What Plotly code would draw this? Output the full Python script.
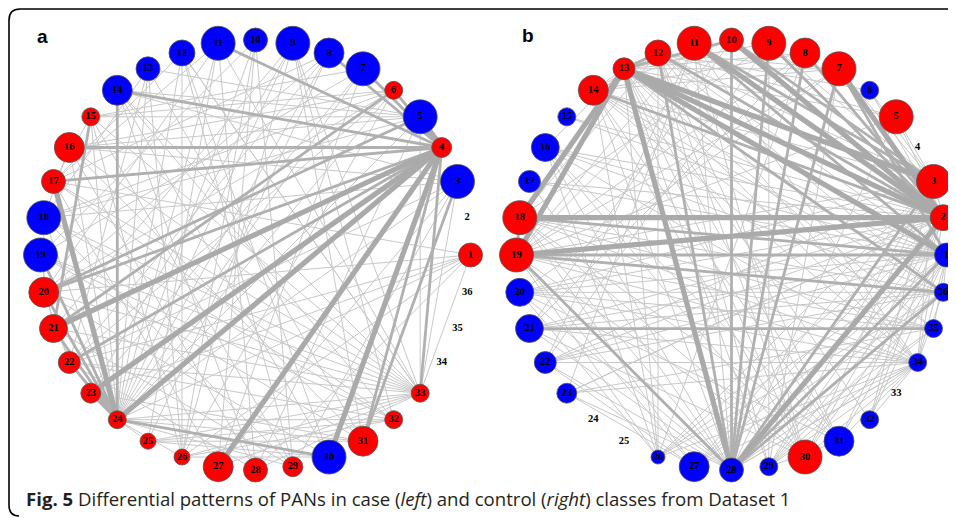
import math
import plotly.graph_objects as go

# ---------------- data ----------------
NODE_IDS = list(range(1, 37))

# node radius (px) and class per node: 'r' = red, 'b' = blue, '' = no circle
A_RADIUS = [12, 0, 17, 10, 17, 9, 17, 15, 17, 12, 17, 13, 12, 15, 9, 15, 12, 17,
            17, 15, 14, 11, 10, 9, 8, 8, 15, 12, 10, 17, 15, 9, 9, 0, 0, 0]
A_CLASS = ['r', '', 'b', 'r', 'b', 'r', 'b', 'b', 'b', 'b', 'b', 'b', 'b', 'b', 'r', 'r', 'r', 'b',
           'b', 'r', 'r', 'r', 'r', 'r', 'r', 'r', 'r', 'r', 'r', 'b', 'r', 'r', 'r', '', '', '']

B_RADIUS = [12, 13, 17, 0, 17, 9, 17, 15, 17, 12, 17, 13, 11, 15, 9, 14, 11, 17,
            17, 14, 14, 11, 10, 0, 0, 7, 15, 12, 9, 17, 15, 9, 0, 9, 9, 9]
B_CLASS = ['b', 'r', 'r', '', 'r', 'b', 'r', 'r', 'r', 'r', 'r', 'r', 'r', 'r', 'b', 'b', 'b', 'r',
           'r', 'b', 'b', 'b', 'b', '', '', 'b', 'b', 'b', 'b', 'r', 'b', 'b', '', 'b', 'b', 'b']

A_THICK = [(4, 21), (4, 24), (4, 27), (4, 30), (4, 23), (17, 24), (4, 5)]
A_MED = [(4, 7), (4, 8), (4, 11), (4, 14), (4, 16), (4, 17), (4, 20), (4, 22), (4, 31), (4, 6),
         (4, 33), (14, 24), (15, 21), (24, 30), (20, 24), (21, 24), (23, 24), (22, 24), (3, 31),
         (5, 20), (6, 21), (19, 24)]
A_THIN = [(33, 15), (33, 16), (33, 17), (33, 18), (33, 19), (33, 20), (33, 21), (33, 22), (33, 14),
          (33, 12), (33, 11), (33, 9), (33, 1), (33, 3), (33, 5), (33, 25), (33, 26), (33, 27), (33, 28),
          (24, 32), (24, 33), (24, 31), (24, 29), (24, 26), (24, 25), (24, 1), (24, 3), (24, 5), (24, 6),
          (24, 7), (24, 8), (24, 9), (24, 12), (24, 13), (24, 11), (24, 10), (24, 15), (24, 16), (24, 18),
          (13, 31), (12, 30), (10, 26), (10, 29), (9, 32), (8, 22), (8, 20), (7, 19), (7, 23), (6, 20),
          (6, 22), (6, 18), (5, 18), (5, 16), (5, 15), (3, 18), (3, 22), (1, 28), (1, 22), (16, 31),
          (17, 32), (18, 32), (19, 32), (22, 32), (23, 31), (14, 30), (14, 32), (15, 29), (15, 26),
          (12, 26), (12, 29), (11, 25), (11, 28), (10, 27), (9, 26), (8, 25), (7, 27), (13, 22), (13, 18),
          (12, 17), (11, 17), (11, 20), (10, 19), (9, 21), (9, 23), (8, 17), (7, 15), (6, 15), (6, 16),
          (5, 14), (5, 13), (3, 14), (3, 16), (1, 17), (1, 20), (1, 23), (1, 26), (3, 27), (3, 29),
          (5, 28), (6, 26), (31, 25), (32, 25), (32, 26), (30, 25), (30, 26), (16, 28), (17, 27),
          (18, 29), (19, 31), (20, 30), (21, 29), (22, 28), (15, 17), (16, 18), (20, 22), (21, 23),
          (18, 20), (19, 21), (13, 26), (14, 28), (9, 31), (12, 33)]

B_THICK = [(13, 2), (13, 3), (13, 18), (13, 19), (13, 28), (18, 2), (19, 2), (10, 2), (11, 2),
           (7, 2), (28, 2), (13, 1)]
B_MED = [(10, 28), (8, 28), (7, 28), (9, 28), (19, 28), (28, 1), (28, 3), (19, 1), (11, 3), (10, 3),
         (12, 2), (13, 36), (18, 1), (11, 1), (7, 1), (8, 2), (12, 13), (13, 10), (18, 19), (19, 36),
         (21, 35), (28, 36), (14, 2), (9, 2), (28, 12)]
B_THIN = [(34, 19), (34, 18), (34, 20), (34, 21), (34, 22), (34, 23), (34, 14), (34, 13), (34, 12),
          (34, 27), (34, 28), (34, 29), (34, 26), (34, 30), (34, 31), (34, 32), (34, 36), (34, 1),
          (34, 2), (34, 3), (34, 11), (34, 16), (36, 19), (36, 20), (36, 21), (36, 18), (36, 16),
          (36, 12), (36, 14), (36, 22), (35, 19), (35, 14), (35, 20), (35, 18), (35, 13), (35, 23),
          (28, 35), (28, 34), (28, 5), (28, 11), (28, 14), (28, 16), (28, 18), (28, 21), (28, 22),
          (28, 23), (28, 20), (26, 19), (26, 20), (26, 16), (26, 14), (26, 13), (26, 12), (26, 2),
          (26, 1), (26, 36), (26, 3), (26, 8), (29, 1), (29, 2), (29, 3), (29, 36), (29, 35), (29, 31),
          (29, 12), (29, 13), (29, 7), (29, 9), (2, 22), (2, 21), (2, 20), (2, 23), (2, 16), (2, 14),
          (2, 5), (2, 3), (1, 21), (1, 22), (1, 20), (1, 16), (1, 12), (1, 14), (3, 14), (3, 12), (3, 9),
          (3, 7), (3, 19), (3, 20), (5, 13), (5, 12), (5, 19), (7, 12), (7, 13), (7, 14), (7, 19),
          (7, 20), (8, 13), (8, 14), (8, 19), (8, 21), (9, 13), (9, 18), (9, 22), (10, 13), (10, 19),
          (10, 21), (10, 14), (11, 19), (11, 22), (11, 23), (11, 30), (12, 30), (12, 31), (12, 18),
          (13, 30), (13, 31), (13, 32), (14, 30), (14, 31), (16, 30), (16, 31), (18, 31), (18, 30),
          (19, 30), (20, 31), (21, 30), (22, 27), (23, 27), (19, 27), (18, 27), (27, 36), (27, 1),
          (27, 3), (27, 2), (30, 2), (30, 3), (30, 1), (31, 1), (31, 2), (32, 1), (32, 2), (32, 3),
          (36, 1), (35, 1), (6, 3), (6, 2), (6, 12), (5, 3), (12, 14), (13, 14), (13, 16), (17, 1),
          (17, 2), (15, 2), (15, 1), (17, 28), (22, 3), (23, 2)]

PANEL_LABELS = ["a", "b"]
CAPTION = ("<b>Fig. 5</b> Differential patterns of PANs in case (<i>left</i>) and "
           "control (<i>right</i>) classes from Dataset 1")

# ---------------- layout / style ----------------
W, H = 956, 518
OFF = 8  # default page margin of the html body
CENTERS = [(255.5, 255.0), (731.5, 255.0)]
R = 215.0
COLORS = {'r': '#ff0000', 'b': '#0000ff', '': 'rgba(0,0,0,0)'}
EDGE_STYLE = [('#c8c8c8', 1.0), ('#b0b0b0', 2.8), ('#aaaaaa', 5.2)]


def positions(center):
    cx, cy = center
    pos = {}
    for k in NODE_IDS:
        t = math.radians((k - 1) * 10)
        pos[k] = (cx + R * math.cos(t), cy - R * math.sin(t))
    return pos


fig = go.Figure()

panels = [(A_RADIUS, A_CLASS, [A_THIN, A_MED, A_THICK]),
          (B_RADIUS, B_CLASS, [B_THIN, B_MED, B_THICK])]

for (radii, classes, edge_sets), center in zip(panels, CENTERS):
    pos = positions(center)
    for edges, (col, wid) in zip(edge_sets, EDGE_STYLE):
        xs, ys = [], []
        for a, b in edges:
            xs += [pos[a][0], pos[b][0], None]
            ys += [pos[a][1], pos[b][1], None]
        fig.add_trace(go.Scatter(x=xs, y=ys, mode='lines',
                                 line=dict(color=col, width=wid),
                                 hoverinfo='skip', showlegend=False))
    fig.add_trace(go.Scatter(
        x=[pos[k][0] for k in NODE_IDS],
        y=[pos[k][1] for k in NODE_IDS],
        mode='markers+text',
        marker=dict(size=[2 * r for r in radii],
                    color=[COLORS[c] for c in classes],
                    line=dict(color=['#555555' if c else 'rgba(0,0,0,0)' for c in classes],
                              width=0.8),
                    opacity=1),
        text=[f"<b>{k}</b>" for k in NODE_IDS],
        textposition='middle center',
        textfont=dict(family='Liberation Serif', size=10.5, color='black'),
        hoverinfo='skip', showlegend=False, cliponaxis=False))

fig.update_layout(
    width=W - OFF, height=H - OFF,
    margin=dict(l=0, r=0, t=0, b=0),
    paper_bgcolor='white', plot_bgcolor='white',
    xaxis=dict(range=[OFF, W], visible=False, fixedrange=True),
    yaxis=dict(range=[H, OFF], visible=False, fixedrange=True),
    shapes=[dict(type='path', xref='x', yref='y',
                 path='M 970,9 L 20,9 Q 9,9 9,20 L 9,505 Q 9,516 19,516',
                 line=dict(color='black', width=1.6))],
    annotations=[
        dict(x=42, y=36, xref='x', yref='y', text=f"<b>{PANEL_LABELS[0]}</b>", showarrow=False,
             font=dict(family='Liberation Sans', size=19, color='black')),
        dict(x=528, y=35, xref='x', yref='y', text=f"<b>{PANEL_LABELS[1]}</b>", showarrow=False,
             font=dict(family='Liberation Sans', size=19, color='black')),
        dict(x=24, y=498, xref='x', yref='y', xanchor='left', yanchor='middle',
             text=CAPTION, showarrow=False,
             font=dict(family='Open Sans', size=18.6, color='#231f20')),
    ],
)

fig.write_html("out.html")
